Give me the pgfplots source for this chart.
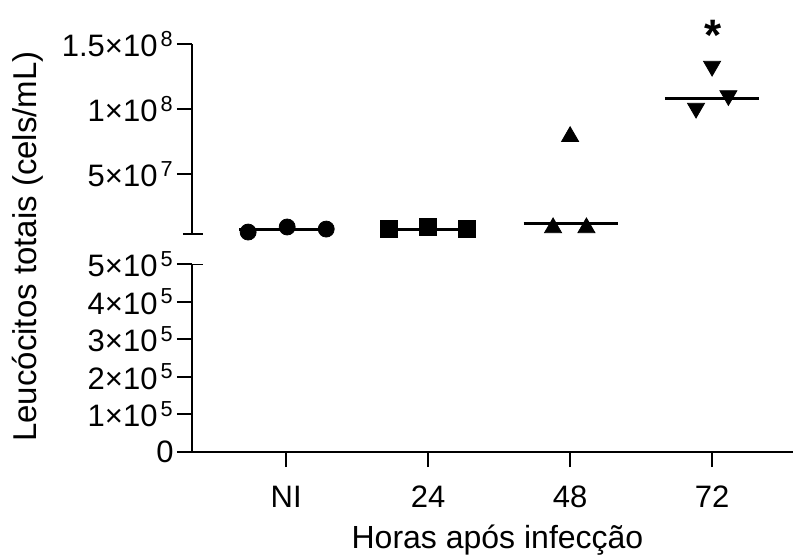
\documentclass[border=0pt]{standalone}
\usepackage{fontspec}
\setmainfont{Liberation Sans}
\usepackage{pgfplots}
\pgfplotsset{compat=1.18}
\newcommand\sci[2]{#1×10\kern1.5pt\textsuperscript{#2}}
\begin{document}
\begin{tikzpicture}
\path[use as bounding box] (0,0) rectangle (396.5pt,-277pt);
\pgfplotsset{
  common/.style={
    scale only axis, width=300.5pt, xmin=-0.6635, xmax=3.57,
    axis y line*=left,
    axis line style={line width=1pt, black},
    tick align=outside, major tick length=7.5pt,
    tick style={line width=1pt, black},
    ticklabel style={font=\fontsize{15.5}{18}\selectfont},
    yticklabel style={inner xsep=1.5pt},
    scaled y ticks=false,
  }
}
% lower segment
\begin{axis}[common, at={(96pt,-226pt)}, anchor=south west, height=94pt,
  axis x line*=bottom, ymin=0, ymax=500000,
  xtick={0,1,2,3}, xticklabels={NI,24,48,72},
  xticklabel style={yshift=-6pt},
  ytick={0,100000,200000,300000,400000,500000},
  yticklabels={0,\sci{1}{5},\sci{2}{5},\sci{3}{5},\sci{4}{5},\sci{5}{5}}]
  \draw[line width=1pt] (rel axis cs:0,1) -- ([xshift=5.5pt]rel axis cs:0,1);
\end{axis}
% upper segment
\begin{axis}[common, at={(96pt,-117pt)}, anchor=south west, height=95pt,
  axis x line=none, ymin=3.8e6, ymax=1.5e8, clip=false,
  ytick={5e7,1e8,1.5e8},
  yticklabels={\sci{5}{7},\sci{1}{8},\sci{1.5}{8}}]
  \draw[line width=1pt] ([xshift=-4.5pt]rel axis cs:0,0) -- ([xshift=5.5pt]rel axis cs:0,0);
  % median lines
  \addplot[black, line width=1.5pt] coordinates {(-0.33,7.6e6) (0.33,7.6e6)};
  \addplot[black, line width=1.5pt] coordinates {(0.67,7.6e6) (1.33,7.6e6)};
  \addplot[black, line width=1.5pt] coordinates {(1.672,1.2e7) (2.335,1.2e7)};
  \addplot[black, line width=1.5pt] coordinates {(2.668,1.082e8) (3.332,1.082e8)};
  % NI
  \addplot[only marks, mark=*, mark size=4pt, black] coordinates {(-0.268,5.3e6) (0.007,9.2e6) (0.282,7.6e6)};
  % 24
  \addplot[only marks, mark=square*, mark size=4.25pt, black] coordinates {(0.725,7.6e6) (1,9.2e6) (1.275,7.6e6)};
  % 48
  \addplot[only marks, mark=triangle*, mark size=4.9pt, black] coordinates {(1.88,8.6e6) (2,7.88e7) (2.115,8.6e6)};
  % 72
  \addplot[only marks, mark=triangle*, mark size=4.9pt, black, mark options={rotate=180}] coordinates {(2.887,1.006e8) (3.0,1.329e8) (3.115,1.103e8)};
  \node[anchor=base, font=\bfseries\fontsize{22}{24}\selectfont] at (axis cs:3.01,1.45e8) {*};
\end{axis}
\node[rotate=90, anchor=base, font=\fontsize{16.5}{20}\selectfont] at (18pt,-123.25pt) {Leucócitos totais (cels/mL)};
\node[anchor=base, font=\fontsize{16}{20}\selectfont] at (248.75pt,-274pt) {Horas após infecção};
\end{tikzpicture}
\end{document}
